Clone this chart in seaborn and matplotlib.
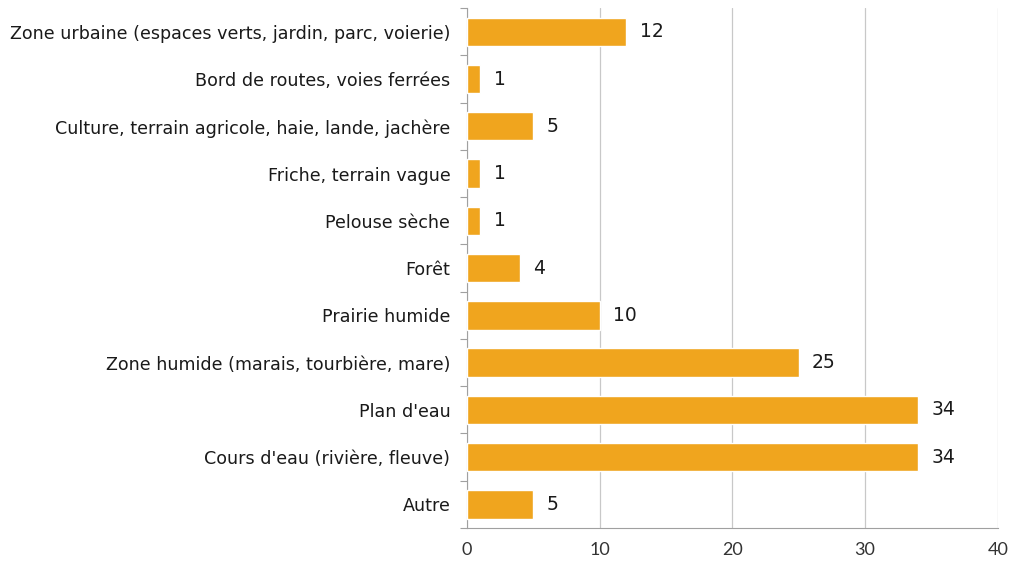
import matplotlib
matplotlib.use("Agg")
import matplotlib.pyplot as plt
import seaborn as sns
import pandas as pd
import numpy as np

categories = [
    "Zone urbaine (espaces verts, jardin, parc, voierie)",
    "Bord de routes, voies ferrées",
    "Culture, terrain agricole, haie, lande, jachère",
    "Friche, terrain vague",
    "Pelouse sèche",
    "Forêt",
    "Prairie humide",
    "Zone humide (marais, tourbière, mare)",
    "Plan d'eau",
    "Cours d'eau (rivière, fleuve)",
    "Autre",
]
counts = [12, 1, 5, 1, 1, 4, 10, 25, 34, 34, 5]
x_ticks = [0, 10, 20, 30, 40]

df = pd.DataFrame({"milieu": categories, "n": counts})

sns.set_theme(style="white")
plt.rcParams["font.family"] = ["DejaVu Sans"]

fig = plt.figure(figsize=(10.13, 5.62), dpi=100)
ax = fig.add_axes([0.461, 0.0605, 0.524, 0.925])

bar_color = "#F0A51E"
sns.barplot(data=df, y="milieu", x="n", orient="h", color=bar_color,
            width=0.6, saturation=1, ax=ax, zorder=3)

ax.set_xlim(0, 40)
ax.set_xticks(x_ticks)
ax.set_xticklabels([str(t) for t in x_ticks], fontsize=13, color="#333333",
                   family=["Lato", "DejaVu Sans"])
ax.set_xlabel("")
ax.set_ylabel("")
ax.tick_params(axis="y", length=0, labelsize=12.6, labelcolor="#1a1a1a", pad=12)
ax.tick_params(axis="x", length=5, color="#A0A0A0", width=0.8, pad=5)

# small separator ticks between categories on the left axis
ax.set_yticks(np.arange(-0.5, len(categories), 1.0), minor=True)
ax.tick_params(axis="y", which="minor", length=5, color="#A0A0A0", width=0.8, left=True)
ax.set_ylim(len(categories) - 0.5, -0.5)

ax.grid(axis="x", color="#C8C8C8", linewidth=0.9, zorder=0)
ax.set_axisbelow(True)
for side in ["top", "right"]:
    ax.spines[side].set_visible(False)
for side in ["left", "bottom"]:
    ax.spines[side].set_color("#A0A0A0")
    ax.spines[side].set_linewidth(0.8)

for i, v in enumerate(counts):
    ax.text(v + 1.0, i, str(v), va="center", ha="left", fontsize=13.5, color="#1a1a1a")

fig.savefig("out.png", dpi=100, facecolor="white")
